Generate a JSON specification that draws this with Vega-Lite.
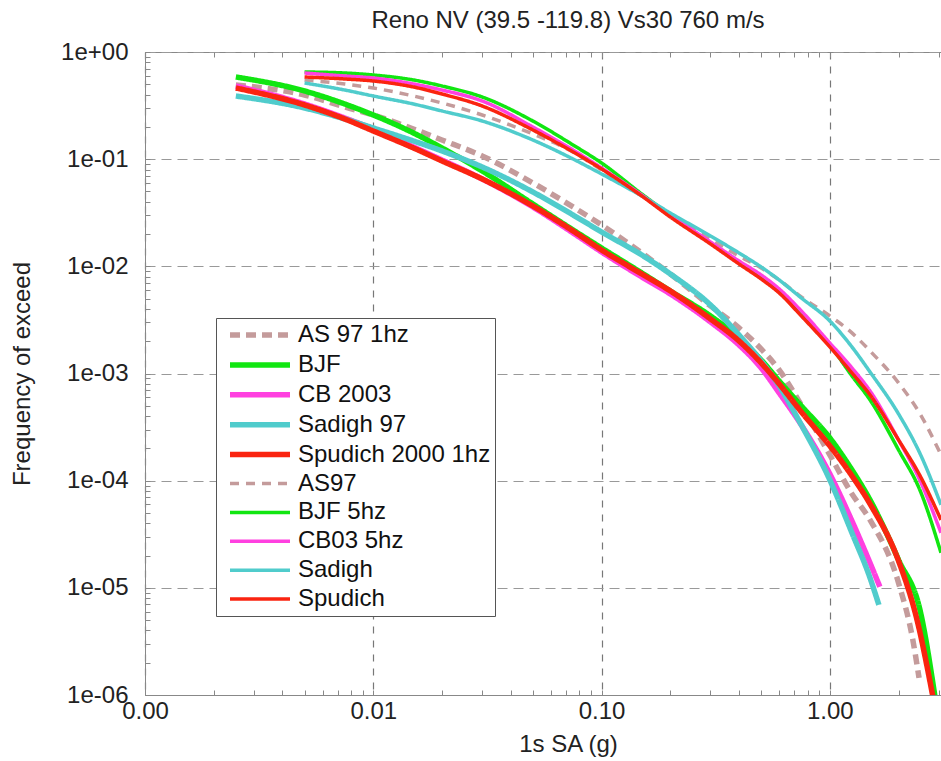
{
 "$schema": "https://vega.github.io/schema/vega-lite/v6.json",
 "width": 796,
 "height": 643,
 "autosize": {"type": "none"},
 "padding": {"left": 145, "top": 52, "right": 0, "bottom": 66},
 "background": "white",
 "title": {"text": "Reno NV (39.5 -119.8) Vs30 760 m/s", "font": "Liberation Sans", "fontSize": 24, "fontWeight": "normal", "color": "#222", "frame": "group", "offset": 7, "dx": 25},
 "config": {
  "view": {"stroke": "#888", "strokeWidth": 1},
  "legend": {"orient": "none", "legendX": 71, "legendY": 266, "strokeColor": "#555", "fillColor": "white", "padding": 4, "labelFont": "Liberation Sans", "labelFontSize": 24, "labelColor": "#111", "symbolType": "M-3,0H3", "symbolSize": 400, "symbolOffset": 27, "rowPadding": 4.9, "labelOffset": 25, "labelLimit": 400}
 },
 "data": {"values": [
  {"s":"AS 97 1hz","x":0.0025,"y":0.4923},{"s":"AS 97 1hz","x":0.005,"y":0.3971},{"s":"AS 97 1hz","x":0.0075,"y":0.3068},{"s":"AS 97 1hz","x":0.01,"y":0.2584},{"s":"AS 97 1hz","x":0.015,"y":0.1913},{"s":"AS 97 1hz","x":0.02,"y":0.151},{"s":"AS 97 1hz","x":0.03,"y":0.1071},{"s":"AS 97 1hz","x":0.05,"y":0.05998},{"s":"AS 97 1hz","x":0.075,"y":0.03581},{"s":"AS 97 1hz","x":0.1,"y":0.02433},{"s":"AS 97 1hz","x":0.15,"y":0.01334},{"s":"AS 97 1hz","x":0.2,"y":0.008495},{"s":"AS 97 1hz","x":0.3,"y":0.004272},{"s":"AS 97 1hz","x":0.4,"y":0.002663},{"s":"AS 97 1hz","x":0.5,"y":0.001697},{"s":"AS 97 1hz","x":0.6,"y":0.00108},{"s":"AS 97 1hz","x":0.75,"y":0.0005095},{"s":"AS 97 1hz","x":1.0,"y":0.000174},{"s":"AS 97 1hz","x":1.25,"y":0.0000753},{"s":"AS 97 1hz","x":1.5,"y":0.00004309},{"s":"AS 97 1hz","x":2.0,"y":0.00001113},{"s":"AS 97 1hz","x":2.31,"y":0.000003272},{"s":"AS 97 1hz","x":2.46,"y":0.000001446},
  {"s":"BJF","x":0.0025,"y":0.5845},{"s":"BJF","x":0.005,"y":0.4328},{"s":"BJF","x":0.0075,"y":0.3272},{"s":"BJF","x":0.01,"y":0.2584},{"s":"BJF","x":0.015,"y":0.1755},{"s":"BJF","x":0.02,"y":0.1272},{"s":"BJF","x":0.03,"y":0.07759},{"s":"BJF","x":0.05,"y":0.0382},{"s":"BJF","x":0.075,"y":0.02186},{"s":"BJF","x":0.1,"y":0.01484},{"s":"BJF","x":0.15,"y":0.008683},{"s":"BJF","x":0.2,"y":0.005895},{"s":"BJF","x":0.3,"y":0.003446},{"s":"BJF","x":0.4,"y":0.002148},{"s":"BJF","x":0.5,"y":0.001339},{"s":"BJF","x":0.6,"y":0.0008531},{"s":"BJF","x":0.75,"y":0.0004985},{"s":"BJF","x":1.0,"y":0.0002507},{"s":"BJF","x":1.25,"y":0.0001261},{"s":"BJF","x":1.5,"y":0.00006621},{"s":"BJF","x":2.0,"y":0.00001825},{"s":"BJF","x":2.5,"y":0.000005846},{"s":"BJF","x":2.89,"y":0.00000096},
  {"s":"CB 2003","x":0.0025,"y":0.4818},{"s":"CB 2003","x":0.005,"y":0.3272},{"s":"CB 2003","x":0.0075,"y":0.2423},{"s":"CB 2003","x":0.01,"y":0.1913},{"s":"CB 2003","x":0.015,"y":0.13},{"s":"CB 2003","x":0.02,"y":0.09829},{"s":"CB 2003","x":0.03,"y":0.06536},{"s":"CB 2003","x":0.05,"y":0.03581},{"s":"CB 2003","x":0.075,"y":0.02049},{"s":"CB 2003","x":0.1,"y":0.01362},{"s":"CB 2003","x":0.15,"y":0.00796},{"s":"CB 2003","x":0.2,"y":0.005527},{"s":"CB 2003","x":0.3,"y":0.00303},{"s":"CB 2003","x":0.4,"y":0.001848},{"s":"CB 2003","x":0.5,"y":0.001128},{"s":"CB 2003","x":0.6,"y":0.0006592},{"s":"CB 2003","x":0.75,"y":0.0003315},{"s":"CB 2003","x":1.0,"y":0.0001157},{"s":"CB 2003","x":1.25,"y":0.00004217},{"s":"CB 2003","x":1.5,"y":0.00001711},{"s":"CB 2003","x":1.657,"y":0.00001022},
  {"s":"Sadigh 97","x":0.0025,"y":0.3887},{"s":"Sadigh 97","x":0.005,"y":0.3003},{"s":"Sadigh 97","x":0.0075,"y":0.2371},{"s":"Sadigh 97","x":0.01,"y":0.1954},{"s":"Sadigh 97","x":0.015,"y":0.1478},{"s":"Sadigh 97","x":0.02,"y":0.1193},{"s":"Sadigh 97","x":0.03,"y":0.08456},{"s":"Sadigh 97","x":0.05,"y":0.04943},{"s":"Sadigh 97","x":0.075,"y":0.03016},{"s":"Sadigh 97","x":0.1,"y":0.02094},{"s":"Sadigh 97","x":0.15,"y":0.01277},{"s":"Sadigh 97","x":0.2,"y":0.008495},{"s":"Sadigh 97","x":0.3,"y":0.004364},{"s":"Sadigh 97","x":0.4,"y":0.002292},{"s":"Sadigh 97","x":0.5,"y":0.001311},{"s":"Sadigh 97","x":0.6,"y":0.000766},{"s":"Sadigh 97","x":0.75,"y":0.0003315},{"s":"Sadigh 97","x":1.0,"y":0.0001017},{"s":"Sadigh 97","x":1.25,"y":0.00003259},{"s":"Sadigh 97","x":1.5,"y":0.0000124},{"s":"Sadigh 97","x":1.64,"y":0.00000694},
  {"s":"Spudich 2000 1hz","x":0.0025,"y":0.4615},{"s":"Spudich 2000 1hz","x":0.005,"y":0.3203},{"s":"Spudich 2000 1hz","x":0.0075,"y":0.2371},{"s":"Spudich 2000 1hz","x":0.01,"y":0.1833},{"s":"Spudich 2000 1hz","x":0.015,"y":0.1272},{"s":"Spudich 2000 1hz","x":0.02,"y":0.09621},{"s":"Spudich 2000 1hz","x":0.03,"y":0.06536},{"s":"Spudich 2000 1hz","x":0.05,"y":0.03659},{"s":"Spudich 2000 1hz","x":0.075,"y":0.02139},{"s":"Spudich 2000 1hz","x":0.1,"y":0.01422},{"s":"Spudich 2000 1hz","x":0.15,"y":0.008495},{"s":"Spudich 2000 1hz","x":0.2,"y":0.005895},{"s":"Spudich 2000 1hz","x":0.3,"y":0.00323},{"s":"Spudich 2000 1hz","x":0.4,"y":0.002014},{"s":"Spudich 2000 1hz","x":0.5,"y":0.001256},{"s":"Spudich 2000 1hz","x":0.6,"y":0.0007995},{"s":"Spudich 2000 1hz","x":0.75,"y":0.0004384},{"s":"Spudich 2000 1hz","x":1.0,"y":0.0002112},{"s":"Spudich 2000 1hz","x":1.25,"y":0.0001109},{"s":"Spudich 2000 1hz","x":1.5,"y":0.00006076},{"s":"Spudich 2000 1hz","x":2.0,"y":0.00001786},{"s":"Spudich 2000 1hz","x":2.41,"y":0.000005028},{"s":"Spudich 2000 1hz","x":2.83,"y":0.00000096},
  {"s":"AS97","x":0.005,"y":0.5482},{"s":"AS97","x":0.0075,"y":0.503},{"s":"AS97","x":0.01,"y":0.4615},{"s":"AS97","x":0.015,"y":0.3887},{"s":"AS97","x":0.02,"y":0.3344},{"s":"AS97","x":0.03,"y":0.2584},{"s":"AS97","x":0.05,"y":0.1718},{"s":"AS97","x":0.075,"y":0.1168},{"s":"AS97","x":0.1,"y":0.07927},{"s":"AS97","x":0.15,"y":0.04536},{"s":"AS97","x":0.2,"y":0.03082},{"s":"AS97","x":0.3,"y":0.01801},{"s":"AS97","x":0.4,"y":0.0125},{"s":"AS97","x":0.5,"y":0.009663},{"s":"AS97","x":0.6,"y":0.007464},{"s":"AS97","x":0.75,"y":0.005182},{"s":"AS97","x":1.0,"y":0.003446},{"s":"AS97","x":1.25,"y":0.002392},{"s":"AS97","x":1.5,"y":0.001625},{"s":"AS97","x":2.0,"y":0.0008173},{"s":"AS97","x":2.5,"y":0.0004109},{"s":"AS97","x":3.07,"y":0.000174},
  {"s":"BJF 5hz","x":0.005,"y":0.651},{"s":"BJF 5hz","x":0.0075,"y":0.637},{"s":"BJF 5hz","x":0.01,"y":0.6102},{"s":"BJF 5hz","x":0.015,"y":0.5482},{"s":"BJF 5hz","x":0.02,"y":0.4818},{"s":"BJF 5hz","x":0.03,"y":0.3803},{"s":"BJF 5hz","x":0.05,"y":0.2271},{"s":"BJF 5hz","x":0.075,"y":0.1357},{"s":"BJF 5hz","x":0.1,"y":0.09217},{"s":"BJF 5hz","x":0.15,"y":0.04735},{"s":"BJF 5hz","x":0.2,"y":0.03016},{"s":"BJF 5hz","x":0.3,"y":0.01653},{"s":"BJF 5hz","x":0.4,"y":0.01076},{"s":"BJF 5hz","x":0.5,"y":0.007793},{"s":"BJF 5hz","x":0.6,"y":0.005769},{"s":"BJF 5hz","x":0.75,"y":0.003521},{"s":"BJF 5hz","x":1.0,"y":0.001848},{"s":"BJF 5hz","x":1.25,"y":0.0009498},{"s":"BJF 5hz","x":1.5,"y":0.0005672},{"s":"BJF 5hz","x":2.0,"y":0.0001938},{"s":"BJF 5hz","x":2.5,"y":0.00007862},{"s":"BJF 5hz","x":3.07,"y":0.00002121},
  {"s":"CB03 5hz","x":0.005,"y":0.637},{"s":"CB03 5hz","x":0.0075,"y":0.5972},{"s":"CB03 5hz","x":0.01,"y":0.5722},{"s":"CB03 5hz","x":0.015,"y":0.503},{"s":"CB03 5hz","x":0.02,"y":0.4419},{"s":"CB03 5hz","x":0.03,"y":0.349},{"s":"CB03 5hz","x":0.05,"y":0.1997},{"s":"CB03 5hz","x":0.075,"y":0.1219},{"s":"CB03 5hz","x":0.1,"y":0.08277},{"s":"CB03 5hz","x":0.15,"y":0.04634},{"s":"CB03 5hz","x":0.2,"y":0.03016},{"s":"CB03 5hz","x":0.3,"y":0.01689},{"s":"CB03 5hz","x":0.4,"y":0.01123},{"s":"CB03 5hz","x":0.5,"y":0.008315},{"s":"CB03 5hz","x":0.6,"y":0.006154},{"s":"CB03 5hz","x":0.75,"y":0.003837},{"s":"CB03 5hz","x":1.0,"y":0.00193},{"s":"CB03 5hz","x":1.25,"y":0.001128},{"s":"CB03 5hz","x":1.5,"y":0.0006882},{"s":"CB03 5hz","x":2.0,"y":0.0002403},{"s":"CB03 5hz","x":2.5,"y":0.00009745},{"s":"CB03 5hz","x":3.07,"y":0.00003259},
  {"s":"Sadigh","x":0.005,"y":0.5138},{"s":"Sadigh","x":0.0075,"y":0.4419},{"s":"Sadigh","x":0.01,"y":0.3887},{"s":"Sadigh","x":0.015,"y":0.3272},{"s":"Sadigh","x":0.02,"y":0.2816},{"s":"Sadigh","x":0.03,"y":0.2271},{"s":"Sadigh","x":0.05,"y":0.151},{"s":"Sadigh","x":0.075,"y":0.1004},{"s":"Sadigh","x":0.1,"y":0.07277},{"s":"Sadigh","x":0.15,"y":0.04536},{"s":"Sadigh","x":0.2,"y":0.03148},{"s":"Sadigh","x":0.3,"y":0.01921},{"s":"Sadigh","x":0.4,"y":0.01334},{"s":"Sadigh","x":0.5,"y":0.009872},{"s":"Sadigh","x":0.6,"y":0.007464},{"s":"Sadigh","x":0.75,"y":0.005072},{"s":"Sadigh","x":1.0,"y":0.003095},{"s":"Sadigh","x":1.25,"y":0.00177},{"s":"Sadigh","x":1.5,"y":0.001035},{"s":"Sadigh","x":2.0,"y":0.0004199},{"s":"Sadigh","x":2.5,"y":0.000174},{"s":"Sadigh","x":3.07,"y":0.00005948},
  {"s":"Spudich","x":0.005,"y":0.5845},{"s":"Spudich","x":0.0075,"y":0.56},{"s":"Spudich","x":0.01,"y":0.5364},{"s":"Spudich","x":0.015,"y":0.4716},{"s":"Spudich","x":0.02,"y":0.4057},{"s":"Spudich","x":0.03,"y":0.3134},{"s":"Spudich","x":0.05,"y":0.1873},{"s":"Spudich","x":0.075,"y":0.1168},{"s":"Spudich","x":0.1,"y":0.081},{"s":"Spudich","x":0.15,"y":0.04536},{"s":"Spudich","x":0.2,"y":0.02889},{"s":"Spudich","x":0.3,"y":0.01618},{"s":"Spudich","x":0.4,"y":0.01053},{"s":"Spudich","x":0.5,"y":0.007626},{"s":"Spudich","x":0.6,"y":0.005647},{"s":"Spudich","x":0.75,"y":0.003446},{"s":"Spudich","x":1.0,"y":0.00177},{"s":"Spudich","x":1.25,"y":0.001013},{"s":"Spudich","x":1.5,"y":0.0006315},{"s":"Spudich","x":2.0,"y":0.0002403},{"s":"Spudich","x":2.5,"y":0.0001085},{"s":"Spudich","x":3.07,"y":0.00004309}
 ]},
 "resolve": {"axis": {"x": "independent", "y": "independent"}},
 "layer": [
  {
   "mark": {"type": "line", "clip": true, "strokeCap": "butt", "interpolate": "monotone"},
   "encoding": {
    "x": {"field": "x", "type": "quantitative",
     "scale": {"type": "log", "domain": [0.001, 3.07], "nice": false},
     "axis": {
      "values": [0.001,0.002,0.003,0.004,0.005,0.006,0.007,0.008,0.009,0.01,0.02,0.03,0.04,0.05,0.06,0.07,0.08,0.09,0.1,0.2,0.3,0.4,0.5,0.6,0.7,0.8,0.9,1,2,3],
      "labelExpr": "abs(log(datum.value)/LN10 - round(log(datum.value)/LN10)) < 0.01 ? format(datum.value, '.2f') : ''",
      "labelOverlap": false, "labelFlush": false,
      "labelFont": "Liberation Sans", "labelFontSize": 24, "labelColor": "#222", "labelPadding": 9,
      "title": "1s SA (g)", "titleFont": "Liberation Sans", "titleFontSize": 24, "titleFontWeight": "normal", "titleColor": "#222", "titlePadding": 9, "titleX": 423,
      "grid": true, "gridColor": "#777", "gridDash": [7, 7], "gridWidth": 1.2,
      "gridOpacity": {"condition": {"test": "abs(log(datum.value)/LN10 - round(log(datum.value)/LN10)) < 0.01", "value": 1}, "value": 0},
      "tickSize": -5, "tickColor": "#888", "domainColor": "#888"
     }},
    "y": {"field": "y", "type": "quantitative",
     "scale": {"type": "log", "domain": [0.000001, 1], "nice": false},
     "axis": {
      "values": [1e-6,2e-6,3e-6,4e-6,5e-6,6e-6,7e-6,8e-6,9e-6,1e-5,2e-5,3e-5,4e-5,5e-5,6e-5,7e-5,8e-5,9e-5,1e-4,2e-4,3e-4,4e-4,5e-4,6e-4,7e-4,8e-4,9e-4,0.001,0.002,0.003,0.004,0.005,0.006,0.007,0.008,0.009,0.01,0.02,0.03,0.04,0.05,0.06,0.07,0.08,0.09,0.1,0.2,0.3,0.4,0.5,0.6,0.7,0.8,0.9,1],
      "labelExpr": "abs(log(datum.value)/LN10 - round(log(datum.value)/LN10)) < 0.01 ? (datum.value > 0.5 ? '1e+00' : '1e-0' + round(-log(datum.value)/LN10)) : ''",
      "labelOverlap": false, "labelFlush": false,
      "labelFont": "Liberation Sans", "labelFontSize": 24, "labelColor": "#222", "labelPadding": 22,
      "title": "Frequency of exceed", "titleFont": "Liberation Sans", "titleFontSize": 24, "titleFontWeight": "normal", "titleColor": "#222", "titlePadding": 26,
      "grid": true, "gridColor": "#999", "gridDash": [10, 6], "gridWidth": 1.2,
      "gridOpacity": {"condition": {"test": "abs(log(datum.value)/LN10 - round(log(datum.value)/LN10)) < 0.01", "value": 1}, "value": 0},
      "tickSize": -5, "tickColor": "#888", "domainColor": "#888"
     }},
    "color": {"field": "s", "type": "nominal",
     "scale": {"domain": ["AS 97 1hz","BJF","CB 2003","Sadigh 97","Spudich 2000 1hz","AS97","BJF 5hz","CB03 5hz","Sadigh","Spudich"],
               "range": ["#c49b9b","#11e611","#ff40e0","#50cccc","#fa2410","#c49b9b","#11e611","#ff40e0","#50cccc","#fa2410"]},
     "legend": {"title": null}},
    "strokeDash": {"field": "s", "type": "nominal",
     "scale": {"domain": ["AS 97 1hz","BJF","CB 2003","Sadigh 97","Spudich 2000 1hz","AS97","BJF 5hz","CB03 5hz","Sadigh","Spudich"],
               "range": [[10,6],[1,0],[1,0],[1,0],[1,0],[9,7],[1,0],[1,0],[1,0],[1,0]]},
     "legend": {"title": null}},
    "strokeWidth": {"field": "s", "type": "nominal",
     "scale": {"type": "ordinal", "domain": ["AS 97 1hz","BJF","CB 2003","Sadigh 97","Spudich 2000 1hz","AS97","BJF 5hz","CB03 5hz","Sadigh","Spudich"],
               "range": [5.5,5.5,5.5,5.5,5.5,3.5,3.5,3.5,3.5,3.5]},
     "legend": {"title": null}}
   }
  },
  {
   "mark": {"type": "line", "opacity": 0},
   "encoding": {
    "x": {"field": "x", "type": "quantitative",
     "axis": {"orient": "top", "values": [0.001,0.002,0.003,0.004,0.005,0.006,0.007,0.008,0.009,0.01,0.02,0.03,0.04,0.05,0.06,0.07,0.08,0.09,0.1,0.2,0.3,0.4,0.5,0.6,0.7,0.8,0.9,1,2,3],
      "labels": false, "grid": false, "domain": false, "title": null, "tickSize": -5, "tickColor": "#888"}},
    "y": {"field": "y", "type": "quantitative", "axis": null},
    "detail": {"field": "s"}
   }
  }
 ]
}
